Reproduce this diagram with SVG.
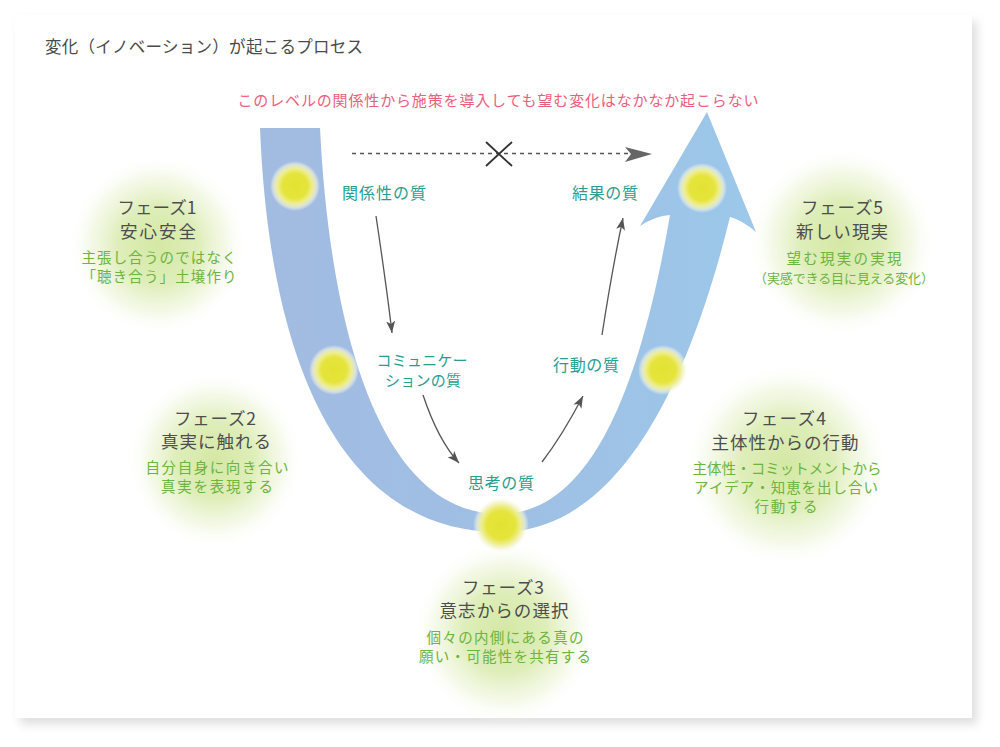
<svg xmlns="http://www.w3.org/2000/svg" width="1000" height="747" viewBox="0 0 1000 747">
<defs>
<style>
text{font-family:'Noto Sans CJK JP','Noto Sans',sans-serif;}
.ttl{font-size:16.5px;fill:#4a4a4a;}
.warn{font-size:15px;fill:#e8607c;}
.q{font-size:16px;fill:#2a9d92;text-anchor:middle;}
.qs{font-size:15px;fill:#2a9d92;text-anchor:middle;}
.ph{font-size:17.5px;fill:#4d4d4d;text-anchor:middle;}
.ds{font-size:14.5px;fill:#6cb43e;text-anchor:middle;}
.dss{font-size:13px;fill:#6cb43e;text-anchor:middle;}
.con{fill:none;stroke:#555;stroke-width:1.3;}
</style>
<filter id="sh" x="-5%" y="-5%" width="110%" height="112%">
<feDropShadow dx="5" dy="6" stdDeviation="5" flood-color="#000" flood-opacity="0.13"/>
</filter>
<linearGradient id="band" gradientUnits="userSpaceOnUse" x1="260" y1="0" x2="756" y2="0">
<stop offset="0" stop-color="#a2bbe1"/>
<stop offset="0.5" stop-color="#9fbfe4"/>
<stop offset="1" stop-color="#9cc8ea"/>
</linearGradient>
<radialGradient id="glow">
<stop offset="0" stop-color="#d4e8a4"/>
<stop offset="0.45" stop-color="#dbecb2" stop-opacity="0.9"/>
<stop offset="0.75" stop-color="#e9f3d0" stop-opacity="0.5"/>
<stop offset="1" stop-color="#ffffff" stop-opacity="0"/>
</radialGradient>
<radialGradient id="dot">
<stop offset="0" stop-color="#e3e232"/>
<stop offset="0.5" stop-color="#e5e43c"/>
<stop offset="0.7" stop-color="#eeee8e"/>
<stop offset="0.85" stop-color="#f3f4cf" stop-opacity="0.7"/>
<stop offset="1" stop-color="#ffffff" stop-opacity="0"/>
</radialGradient>
<marker id="ah" markerUnits="userSpaceOnUse" markerWidth="13" markerHeight="10" refX="12" refY="4.5" orient="auto">
<path d="M0,0 L12,4.5 L0,9 L3,4.5 Z" fill="#555"/>
</marker>
</defs>

<rect width="1000" height="747" fill="#ffffff"/>
<rect id="card" x="15" y="15" width="957" height="703" fill="#ffffff" filter="url(#sh)"/>

<g id="glows">
<circle cx="158" cy="245" r="90" fill="url(#glow)"/>
<circle cx="215" cy="460" r="88" fill="url(#glow)"/>
<circle cx="505" cy="632" r="92" fill="url(#glow)"/>
<circle cx="787" cy="465" r="102" fill="url(#glow)"/>
<circle cx="842" cy="242" r="94" fill="url(#glow)"/>
</g>

<g id="u-arrow">
<path d="M260,128 C270,380 350,532 500,532 C620,532 690,380 730,217 Q742,220 756,232 L707,112 L640,226 Q655,216 670,215 C640,390 590,514 500,514 C380,514 330,330 320,128 Z" fill="url(#band)"/>
</g>

<g id="dots">
<circle cx="295" cy="186" r="25" fill="url(#dot)"/>
<circle cx="334" cy="370" r="25" fill="url(#dot)"/>
<circle cx="501" cy="525" r="28" fill="url(#dot)"/>
<circle cx="663" cy="370" r="25" fill="url(#dot)"/>
<circle cx="702" cy="188" r="25" fill="url(#dot)"/>
</g>

<g id="title">
<text class="ttl" x="45" y="53" textLength="318" lengthAdjust="spacing">変化（イノベーション）が起こるプロセス</text>
</g>
<g id="warning">
<text class="warn" x="498" y="105.5" text-anchor="middle" textLength="521" lengthAdjust="spacing">このレベルの関係性から施策を導入しても望む変化はなかなか起こらない</text>
</g>

<g id="q-relation"><text class="q" x="384" y="199" textLength="84" lengthAdjust="spacing">関係性の質</text></g>
<g id="q-communication">
<text class="qs" x="422" y="365.5" textLength="91" lengthAdjust="spacing">コミュニケー</text>
<text class="qs" x="423" y="385.5" textLength="76" lengthAdjust="spacing">ションの質</text>
</g>
<g id="q-thinking"><text class="q" x="501" y="489" textLength="66" lengthAdjust="spacing">思考の質</text></g>
<g id="q-action"><text class="q" x="586" y="371" textLength="66" lengthAdjust="spacing">行動の質</text></g>
<g id="q-result"><text class="q" x="605" y="199" textLength="66" lengthAdjust="spacing">結果の質</text></g>

<g id="phase1">
<text class="ph" x="157" y="214" textLength="79" lengthAdjust="spacing">フェーズ1</text>
<text class="ph" x="158" y="237.5" textLength="76" lengthAdjust="spacing">安心安全</text>
<text class="ds" x="159" y="263" textLength="155" lengthAdjust="spacing">主張し合うのではなく</text>
<text class="ds" x="159" y="282" textLength="155" lengthAdjust="spacing">「聴き合う」土壌作り</text>
</g>
<g id="phase2">
<text class="ph" x="215" y="424.5" textLength="82" lengthAdjust="spacing">フェーズ2</text>
<text class="ph" x="216" y="447.5" textLength="110" lengthAdjust="spacing">真実に触れる</text>
<text class="ds" x="217" y="473" textLength="143" lengthAdjust="spacing">自分自身に向き合い</text>
<text class="ds" x="217" y="492" textLength="112" lengthAdjust="spacing">真実を表現する</text>
</g>
<g id="phase3">
<text class="ph" x="503" y="593.5" textLength="82" lengthAdjust="spacing">フェーズ3</text>
<text class="ph" x="504" y="616.5" textLength="129" lengthAdjust="spacing">意志からの選択</text>
<text class="ds" x="505" y="643" textLength="157" lengthAdjust="spacing">個々の内側にある真の</text>
<text class="ds" x="505" y="662" textLength="172" lengthAdjust="spacing">願い・可能性を共有する</text>
</g>
<g id="phase4">
<text class="ph" x="784" y="424.5" textLength="84" lengthAdjust="spacing">フェーズ4</text>
<text class="ph" x="785" y="448.5" textLength="147" lengthAdjust="spacing">主体性からの行動</text>
<text class="ds" x="787" y="474" textLength="189" lengthAdjust="spacing">主体性・コミットメントから</text>
<text class="ds" x="786" y="493" textLength="184" lengthAdjust="spacing">アイデア・知恵を出し合い</text>
<text class="ds" x="786" y="512" textLength="63" lengthAdjust="spacing">行動する</text>
</g>
<g id="phase5">
<text class="ph" x="842" y="214" textLength="82" lengthAdjust="spacing">フェーズ5</text>
<text class="ph" x="842" y="237.5" textLength="92" lengthAdjust="spacing">新しい現実</text>
<text class="ds" x="844" y="264" textLength="115" lengthAdjust="spacing">望む現実の実現</text>
<text class="dss" x="844" y="282.5" textLength="180" lengthAdjust="spacing">（実感できる目に見える変化）</text>
</g>

<g id="connectors">
<path class="con" d="M352,153.5 L630,153.5" stroke-dasharray="4 4" stroke-width="1.5"/>
<polygon points="625,147 652,154 625,162 631,154" fill="#666"/>
<path d="M486,142 L512,166 M512,142 L486,166" stroke="#333" stroke-width="1.8" fill="none"/>
<path class="con" d="M376,216 Q387,290 392,333" marker-end="url(#ah)"/>
<path class="con" d="M423,395 Q438,440 459,463" marker-end="url(#ah)"/>
<path class="con" d="M542,462 Q562,436 583,396" marker-end="url(#ah)"/>
<path class="con" d="M602,335 Q612,270 623,218" marker-end="url(#ah)"/>
</g>
</svg>
